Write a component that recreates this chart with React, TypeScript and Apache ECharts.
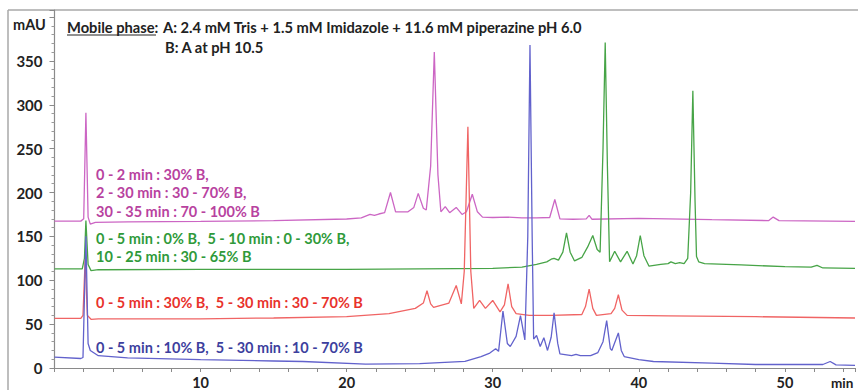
import React, { useEffect, useRef } from "react";
import * as echarts from "echarts";

// Retention time (min) / absorbance (mAU) pairs
const magentaTrace: number[][] = [
  [0, 167.4], [1.8, 167.4], [2.0, 170], [2.15, 291], [2.3, 172], [2.45, 164], [2.8, 166],
  [5, 166.5], [10, 167], [15, 168], [20, 169.8], [21.0, 171], [21.6, 175], [21.9, 174],
  [22.2, 175.5], [22.6, 177], [23.0, 200], [23.35, 178], [24.2, 178], [24.6, 183], [24.9, 199],
  [25.25, 182], [25.45, 180], [25.75, 230], [26.0, 360], [26.25, 220], [26.45, 178], [26.75, 184],
  [27.05, 177], [27.5, 183], [27.9, 175], [28.2, 178], [28.6, 198], [28.95, 178], [29.3, 172],
  [30, 171.5], [31, 172], [32, 171], [33, 171], [33.9, 171.5], [34.25, 192], [34.6, 170],
  [35.5, 169.5], [36.4, 170], [36.6, 174], [36.8, 169.5], [40, 170.5], [45, 169], [48.9, 168],
  [49.2, 172], [49.6, 168], [54.8, 167],
];

const greenTrace: number[][] = [
  [0, 113], [1.9, 113], [2.05, 125], [2.15, 168], [2.3, 118], [2.5, 111], [3.0, 112],
  [10, 112.5], [20, 112.5], [25, 113], [30, 113.5], [32, 115], [33, 118], [33.7, 121],
  [34.0, 124], [34.2, 125], [34.5, 123], [34.8, 132], [35.05, 154], [35.3, 132], [35.6, 122],
  [36.1, 126], [36.5, 138], [36.85, 151], [37.15, 135], [37.35, 132], [37.55, 250], [37.7, 371],
  [37.85, 230], [38.0, 121], [38.35, 133], [38.75, 121], [39.2, 133], [39.6, 118.5], [39.85, 128],
  [40.1, 151], [40.35, 128], [40.7, 116], [41.5, 118], [42.0, 119], [42.2, 121], [42.5, 119],
  [42.8, 120], [43.1, 119], [43.35, 125], [43.55, 200], [43.7, 316], [43.85, 190], [43.95, 127],
  [44.1, 121], [44.5, 119], [47, 117.5], [50, 115.5], [51.8, 115], [52.2, 117], [52.6, 114],
  [54.8, 113.5],
];

const redTrace: number[][] = [
  [0, 56.5], [1.8, 56.5], [1.95, 60], [2.1, 124], [2.25, 60], [2.5, 55.5], [3.0, 56],
  [10, 56], [15, 57], [20, 58.5], [22.9, 62], [24.7, 68], [25.25, 74], [25.5, 88], [25.75, 73],
  [25.95, 69], [27.0, 74], [27.5, 94], [27.85, 73], [28.05, 110], [28.3, 275], [28.5, 110],
  [28.7, 68], [29.1, 77], [29.5, 68], [30.0, 77], [30.5, 64], [30.8, 72], [31.05, 96], [31.3, 70],
  [31.6, 62], [32.5, 60], [34, 60], [36.1, 61], [36.35, 70], [36.6, 90], [36.85, 68], [37.1, 60],
  [38.1, 62], [38.35, 68], [38.6, 83.5], [38.85, 66], [39.2, 60], [42, 59.5], [48, 58.5],
  [54.8, 57],
];

const blueTrace: number[][] = [
  [0, 12.3], [1.8, 10.8], [1.95, 12], [2.15, 150], [2.3, 28], [2.45, 20], [3.0, 14], [5, 11.5],
  [10, 9.5], [15, 8], [17, 7.4], [21.3, 4.5], [25, 5], [28.1, 7.5], [29.2, 13], [29.8, 17],
  [30.2, 22], [30.4, 19], [30.7, 65], [31.0, 28], [31.2, 24.5], [31.6, 36], [31.9, 59.6],
  [32.2, 32], [32.4, 150], [32.55, 368], [32.7, 150], [32.8, 33], [33.0, 37], [33.25, 24.5],
  [33.5, 34.6], [33.75, 20], [34.0, 35], [34.2, 63], [34.45, 28], [34.6, 16], [35.4, 14],
  [35.7, 15.5], [36.0, 14], [36.7, 14], [37.2, 17.6], [37.55, 30], [37.8, 54], [38.05, 22],
  [38.15, 20], [38.6, 40], [38.8, 20], [39.0, 13], [40, 9.5], [41, 7.4], [45, 5.5], [48, 4],
  [52.6, 4], [53.1, 7.4], [53.5, 3.5], [54.8, 3],
];

const yTickLabels: number[] = [0, 50, 100, 150, 200, 250, 300, 350];
const xTickLabels: number[] = [10, 20, 30, 40, 50];

const titleLabel = "Mobile phase";
const phaseA = "A: 2.4 mM Tris + 1.5 mM Imidazole + 11.6 mM piperazine pH 6.0";
const phaseB = "B: A at pH 10.5";
const magentaNotes = ["0 - 2 min : 30% B,", "2 - 30 min : 30 - 70% B,", "30 - 35 min : 70 - 100% B"];
const greenNotes = ["0 - 5 min : 0% B,  5 - 10 min : 0 - 30% B,", "10 - 25 min : 30 - 65% B"];
const redNotes = ["0 - 5 min : 30% B,  5 - 30 min : 30 - 70% B"];
const blueNotes = ["0 - 5 min : 10% B,  5 - 30 min : 10 - 70% B"];

const FONT = "Lato, 'Open Sans', sans-serif";

export default function App() {
  const ref = useRef<HTMLDivElement>(null);
  useEffect(() => {
    if (!ref.current) return;
    const chart = echarts.init(ref.current, null, { renderer: "svg" });
    const note = (lines: string[], y0: number, color: string) =>
      lines.map((t, i) => ({
        type: "text",
        left: 96,
        top: y0 + i * 18.5,
        style: { text: t, fill: color, font: `bold 14.5px ${FONT}` },
      }));
    const series = [
      { data: magentaTrace, color: "#cc66c4" },
      { data: greenTrace, color: "#47a447" },
      { data: redTrace, color: "#f06464" },
      { data: blueTrace, color: "#6262cc" },
    ].map((s) => ({
      type: "line",
      data: s.data,
      showSymbol: false,
      symbol: "none",
      lineStyle: { color: s.color, width: 1.3 },
      itemStyle: { color: s.color },
      silent: true,
    }));
    chart.setOption({
      animation: false,
      backgroundColor: "#ffffff",
      grid: { left: 54.5, right: 0, top: 10, bottom: 20.5 },
      xAxis: {
        type: "value",
        min: 0,
        max: 54.8,
        interval: 2,
        splitLine: { show: false },
        axisLine: { lineStyle: { color: "#8a8a8a", width: 1.2 } },
        axisTick: { length: 4, lineStyle: { color: "#8a8a8a" } },
        axisLabel: {
          margin: 7,
          color: "#222",
          fontWeight: "bold",
          fontSize: 14.5,
          fontFamily: FONT,
          formatter: (v: number) => (xTickLabels.includes(v) ? String(v) : ""),
        },
      },
      yAxis: {
        type: "value",
        min: 0,
        max: 408,
        interval: 50,
        splitLine: { show: false },
        axisLine: { show: true, lineStyle: { color: "#8a8a8a", width: 1.2 } },
        axisTick: { show: true, length: 5, lineStyle: { color: "#8a8a8a" } },
        minorTick: { show: true, splitNumber: 5, length: 3, lineStyle: { color: "#9a9a9a" } },
        axisLabel: {
          margin: 12,
          color: "#222",
          fontWeight: "bold",
          fontSize: 15,
          fontFamily: FONT,
          formatter: (v: number) => (yTickLabels.includes(v) ? String(v) : ""),
        },
      },
      series,
      graphic: [
        { type: "line", shape: { x1: 8, y1: 10, x2: 858, y2: 10 }, style: { stroke: "#a8a8a8", lineWidth: 1.5 } },
        { type: "line", shape: { x1: 8, y1: 10, x2: 8, y2: 390 }, style: { stroke: "#a8a8a8", lineWidth: 1.5 } },
        { type: "text", left: 13, top: 16.5, style: { text: "mAU", fill: "#222", font: `bold 14.5px ${FONT}` } },
        { type: "text", left: 67, top: 19.5, style: { text: titleLabel + ":", fill: "#222", font: `bold 14.7px ${FONT}` } },
        { type: "line", shape: { x1: 67, y1: 35, x2: 156, y2: 35 }, style: { stroke: "#222", lineWidth: 1 } },
        { type: "text", left: 163, top: 19.5, style: { text: phaseA, fill: "#222", font: `bold 14.7px ${FONT}` } },
        { type: "text", left: 165, top: 39.5, style: { text: phaseB, fill: "#222", font: `bold 14.7px ${FONT}` } },
        ...note(magentaNotes, 166.5, "#b8429f"),
        ...note(greenNotes, 230.5, "#2f9a3a"),
        ...note(redNotes, 294.5, "#e8322c"),
        ...note(blueNotes, 339.5, "#3d3f9e"),
        { type: "text", left: 831, top: 376, style: { text: "min", fill: "#222", font: `bold 13.5px ${FONT}` } },
      ],
    });
    return () => chart.dispose();
  }, []);
  return (
    <div
      ref={ref}
      style={{ position: "fixed", left: 0, top: 0, width: 858, height: 390, background: "#fff" }}
    />
  );
}
